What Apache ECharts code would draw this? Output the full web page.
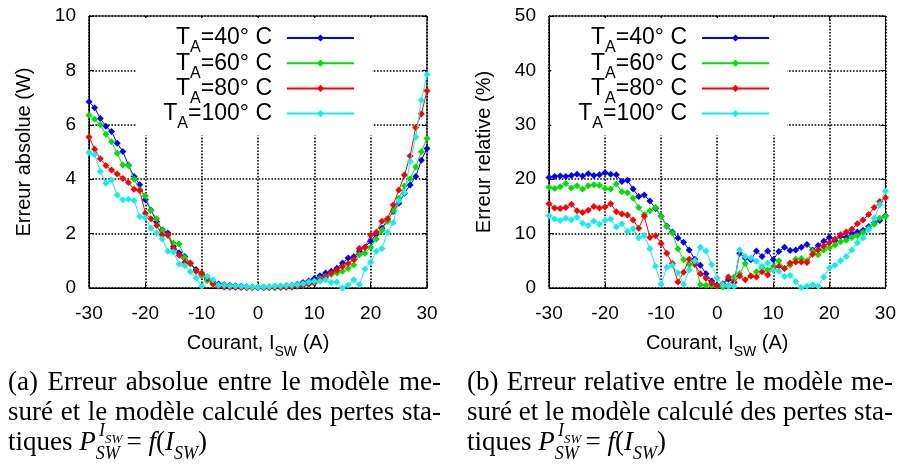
<!DOCTYPE html>
<html><head><meta charset="utf-8">
<script src="https://cdn.jsdelivr.net/npm/echarts@6/dist/echarts.min.js"></script>
<style>html,body{margin:0;padding:0;background:#fff}#c{width:899px;height:467px}</style>
</head><body><div id="c"></div>
<script>
const currents = [-30,-29,-28,-27,-26,-25,-24,-23,-22,-21,-20,-19,-18,-17,-16,-15,-14,-13,-12,-11,-10,-9,-8,-7,-6,-5,-4,-3,-2,-1,0,1,2,3,4,5,6,7,8,9,10,11,12,13,14,15,16,17,18,19,20,21,22,23,24,25,26,27,28,29,30];
const seriesNames = ['T_A=40° C','T_A=60° C','T_A=80° C','T_A=100° C'];
const seriesColors = ['#0000ff','#00e000','#ff0000','#11eeee'];

// Erreur absolue (W)
const absT40 = [6.85,6.63,6.23,5.95,5.75,5.32,5.02,4.52,4.10,3.80,3.24,2.87,2.44,2.14,2.02,1.53,1.30,1.16,0.90,0.68,0.50,0.32,0.22,0.15,0.12,0.10,0.08,0.07,0.05,0.04,0.03,0.03,0.04,0.05,0.06,0.08,0.10,0.14,0.20,0.26,0.35,0.45,0.55,0.62,0.73,0.92,1.10,1.15,1.35,1.50,1.72,1.98,2.20,2.51,2.81,3.12,3.48,3.79,4.10,4.70,5.13];
const absT60 = [6.35,6.20,6.00,5.65,5.38,4.95,4.52,4.50,4.00,3.62,3.38,2.85,2.55,2.12,1.92,1.65,1.62,1.12,0.88,0.62,0.45,0.28,0.15,0.10,0.07,0.05,0.04,0.03,0.02,0.02,0.02,0.02,0.02,0.02,0.03,0.04,0.05,0.07,0.10,0.15,0.22,0.35,0.42,0.50,0.55,0.62,0.72,0.85,1.22,1.28,1.50,1.80,2.12,2.45,2.85,3.30,3.75,4.02,4.45,5.01,5.50];
const absT80 = [5.55,5.10,4.75,4.50,4.34,4.19,4.03,3.88,3.63,3.58,2.75,2.55,2.30,1.95,1.96,1.45,1.20,0.95,0.92,0.62,0.55,0.35,0.15,0.06,0.04,0.03,0.02,0.02,0.01,0.01,0.01,0.01,0.01,0.02,0.02,0.03,0.04,0.06,0.10,0.15,0.18,0.30,0.40,0.55,0.65,0.79,0.90,1.05,1.45,1.50,1.95,2.05,2.45,2.55,3.05,3.60,4.15,4.85,5.90,6.40,7.25];
const absT100 = [4.98,4.91,4.28,3.85,3.97,3.42,3.24,3.26,3.22,2.63,2.58,2.20,2.02,1.80,1.35,1.32,0.88,0.82,0.60,0.37,0.06,0.43,0.30,0.10,0.10,0.08,0.07,0.06,0.05,0.04,0.03,0.04,0.05,0.06,0.07,0.08,0.10,0.12,0.16,0.22,0.25,0.25,0.30,0.20,0.22,0.00,0.10,0.30,0.12,0.70,0.95,1.35,1.45,2.05,2.40,3.20,3.50,4.65,5.55,6.90,7.85];

// Erreur relative (%)
const relT40 = [20.3,20.5,20.6,20.5,20.7,20.9,20.6,21.0,20.7,20.8,21.2,20.9,20.8,19.6,19.8,18.2,16.8,17.1,16.0,14.6,13.2,11.4,10.3,9.2,8.4,7.0,5.3,4.2,2.6,1.3,0.5,0.7,1.6,1.0,6.4,5.5,5.2,6.8,5.8,6.8,5.2,6.7,7.5,6.9,7.0,7.5,8.0,7.0,7.8,8.6,9.3,8.7,9.5,9.3,10.0,10.3,10.6,11.3,12.0,12.4,13.3];
const relT60 = [18.5,18.3,18.6,19.2,18.4,18.8,18.2,18.8,19.0,18.9,18.3,18.2,19.1,17.7,17.5,16.5,14.8,13.5,14.2,14.8,13.2,11.3,10.1,7.2,5.2,4.3,4.8,0.6,0.5,0.5,0.3,0.2,0.4,2.0,2.6,4.5,2.2,3.0,3.8,3.3,4.0,5.0,3.6,4.2,5.3,5.4,5.0,6.8,6.1,7.0,7.4,7.9,8.5,8.8,9.3,9.6,10.2,11.0,11.7,12.8,13.2];
const relT80 = [15.5,14.7,14.6,14.8,15.4,14.2,13.9,14.3,15.0,14.7,14.9,15.5,14.0,13.6,13.4,12.5,11.0,13.2,9.3,9.6,8.2,6.4,4.5,1.1,2.9,5.3,4.3,2.6,1.8,0.9,0.4,0.8,2.0,1.1,2.2,1.5,2.2,2.0,3.0,2.4,3.5,4.0,3.6,4.6,4.8,4.8,4.7,6.2,7.0,7.7,8.3,9.0,9.8,10.3,10.8,11.8,12.5,13.5,14.8,15.9,16.6];
const relT100 = [13.3,12.7,12.4,12.8,12.5,13.0,11.9,11.5,12.3,11.7,12.4,12.7,11.2,11.8,10.4,10.9,9.2,9.7,7.2,4.0,0.7,3.8,4.2,2.8,0.7,3.3,5.0,7.5,6.8,4.3,1.8,0.6,0.3,0.3,7.0,5.8,5.5,4.9,4.0,4.6,3.3,3.1,2.1,2.3,1.2,0.1,0.3,0.6,0.3,2.0,3.7,4.2,5.0,5.8,7.0,8.3,9.2,10.7,12.8,15.3,17.8];

const absSeries = [absT40, absT60, absT80, absT100];
const relSeries = [relT40, relT60, relT80, relT100];

const captionA = ['(a) Erreur absolue entre le modèle me-', 'suré et le modèle calculé des pertes sta-'];
const captionB = ['(b) Erreur relative entre le modèle me-', 'suré et le modèle calculé des pertes sta-'];

const SANS = "'Liberation Sans', Arial, sans-serif";
const SERIF = "'Liberation Serif', 'Times New Roman', serif";

function pairs(arr) { return currents.map((c, i) => [c, arr[i]]); }

function legendFmt(name) {
  const rest = name.slice(3);
  return '{m|T}{s|A}{m|' + rest + '}{g| }';
}

function mkLegend(right) {
  return {
    orient: 'vertical', align: 'right', right: right, top: 18,
    itemWidth: 67, itemHeight: 9, itemGap: -10.8,
    backgroundColor: '#fff', padding: [2, 17, 4, 27],
    data: seriesNames, selectedMode: false,
    formatter: legendFmt,
    textStyle: {
      color: '#000', fontFamily: SANS, fontSize: 23, lineHeight: 24,
      rich: {
        m: { fontSize: 23, lineHeight: 24, fontFamily: SANS, color: '#000' },
        s: { fontSize: 16, lineHeight: 4, padding: [20, 0, 0, 0], fontFamily: SANS, color: '#000' },
        g: { width: 10, fontSize: 10, lineHeight: 4 }
      }
    }
  };
}

const gridLine = { show: true, lineStyle: { color: '#000', type: [1.6, 1.6], width: 1.6 } };
const tickIn = { show: true, inside: true, length: 5, lineStyle: { color: '#000', width: 1 } };

function xAxisMain(gi) {
  return {
    type: 'value', gridIndex: gi, min: -30, max: 30, interval: 10, position: 'bottom',
    axisLine: { show: true, onZero: false, lineStyle: { color: '#000', width: 1 } },
    axisTick: tickIn,
    axisLabel: { color: '#000', fontSize: 19, fontFamily: SANS, margin: 16 },
    splitLine: gridLine,
    name: 'Courant, I{s|SW} (A)', nameLocation: 'middle', nameGap: 44,
    nameTextStyle: { color: '#000', fontSize: 20, lineHeight: 22, fontFamily: SANS,
      rich: { s: { fontSize: 14, lineHeight: 4, padding: [17, 0, 0, 0], fontFamily: SANS, color: '#000' } } }
  };
}
function xAxisMirror(gi) {
  return { type: 'value', gridIndex: gi, position: 'top', min: -30, max: 30, interval: 10,
    axisLine: { show: false, onZero: false }, axisLabel: { show: false }, splitLine: { show: false },
    axisTick: tickIn };
}
function yAxisMain(gi, max, interval, name) {
  return { type: 'value', gridIndex: gi, position: 'left', min: 0, max: max, interval: interval,
    axisLine: { show: true, onZero: false, lineStyle: { color: '#000', width: 1 } },
    axisTick: tickIn,
    axisLabel: { color: '#000', fontSize: 19, fontFamily: SANS, margin: 13 },
    splitLine: gridLine,
    name: name, nameLocation: 'middle', nameGap: 55, nameRotate: 90,
    nameTextStyle: { color: '#000', fontSize: 20, fontFamily: SANS } };
}
function yAxisMirror(gi, max, interval) {
  return { type: 'value', gridIndex: gi, position: 'right', min: 0, max: max, interval: interval,
    axisLine: { show: false, onZero: false }, axisLabel: { show: false }, splitLine: { show: false },
    axisTick: tickIn };
}

const series = [];
[absSeries, relSeries].forEach((group, gi) => {
  group.forEach((arr, k) => {
    series.push({
      type: 'line', name: seriesNames[k], xAxisIndex: gi, yAxisIndex: gi,
      data: pairs(arr), symbol: 'diamond', symbolSize: 7, showSymbol: true,
      color: seriesColors[k],
      lineStyle: { width: 1, color: seriesColors[k] },
      itemStyle: { color: seriesColors[k] },
      emphasis: { disabled: true }, animation: false, z: 2 + k
    });
  });
});

const CAP = 27;
const capFont = CAP + 'px ' + SERIF;
const measureCtx = document.createElement('canvas').getContext('2d');
function justified(line, target) {
  measureCtx.font = capFont;
  const words = line.split(' ');
  const wordsW = words.reduce((s, w) => s + measureCtx.measureText(w).width, 0);
  const gap = Math.max(4, (target - wordsW) / (words.length - 1));
  return { text: words.map(w => '{w|' + w + '}').join('{sp| }'), gap: gap };
}

const capRich = {
  r: { fontSize: CAP, lineHeight: 30, fontFamily: SERIF, color: '#000' },
  i: { fontSize: CAP, lineHeight: 30, fontFamily: SERIF, fontStyle: 'italic', color: '#000' },
  sb: { fontSize: 18, lineHeight: 4, padding: [23, 0, 0, 0], fontFamily: SERIF, fontStyle: 'italic', color: '#000' },
  si: { fontSize: 18, lineHeight: 20, fontFamily: SERIF, fontStyle: 'italic', color: '#000' },
  ss: { fontSize: 13, lineHeight: 4, padding: [17, 0, 0, 0], fontFamily: SERIF, fontStyle: 'italic', color: '#000' }
};

function justText(x0, y, line, target) {
  const j = justified(line, target);
  return { type: 'text', x: x0, y: y, style: { text: j.text, fill: '#000', verticalAlign: 'middle',
    rich: { w: { fontSize: CAP, fontFamily: SERIF, color: '#000', lineHeight: 30 },
            sp: { fontSize: CAP, fontFamily: SERIF, width: j.gap, lineHeight: 30 } } } };
}

function captionGroup(x0, lines, target) {
  return [
    justText(x0, 383, lines[0], target),
    justText(x0, 413, lines[1], target),
    { type: 'text', x: x0, y: 443, style: { text: '{r|tiques }{i|P}{sb|SW}{r| = }{i|f}{r|(}{i|I}{sb|SW}{r|)}', rich: capRich, fill: '#000', verticalAlign: 'middle' } },
    { type: 'text', x: x0 + 91, y: 431, style: { text: '{si|I}{ss|SW}', rich: capRich, fill: '#000', verticalAlign: 'middle' } }
  ];
}

const chart = echarts.init(document.getElementById('c'), null, { renderer: 'canvas' });
chart.setOption({
  backgroundColor: '#fff',
  animation: false,
  grid: [
    { left: 89, top: 16, width: 338, height: 272, show: true, borderColor: '#000', borderWidth: 1, backgroundColor: 'transparent' },
    { left: 549, top: 16, width: 338, height: 272, show: true, borderColor: '#000', borderWidth: 1, backgroundColor: 'transparent' }
  ],
  xAxis: [xAxisMain(0), xAxisMain(1), xAxisMirror(0), xAxisMirror(1)],
  yAxis: [yAxisMain(0, 10, 2, 'Erreur absolue (W)'), yAxisMain(1, 50, 10, 'Erreur relative (%)'),
          yAxisMirror(0, 10, 2), yAxisMirror(1, 50, 10)],
  legend: [mkLegend(899 - 372), mkLegend(899 - 787)],
  series: series,
  graphic: [].concat(
    captionGroup(8, captionA, 433),
    captionGroup(467, captionB, 426)
  )
});
</script></body></html>
